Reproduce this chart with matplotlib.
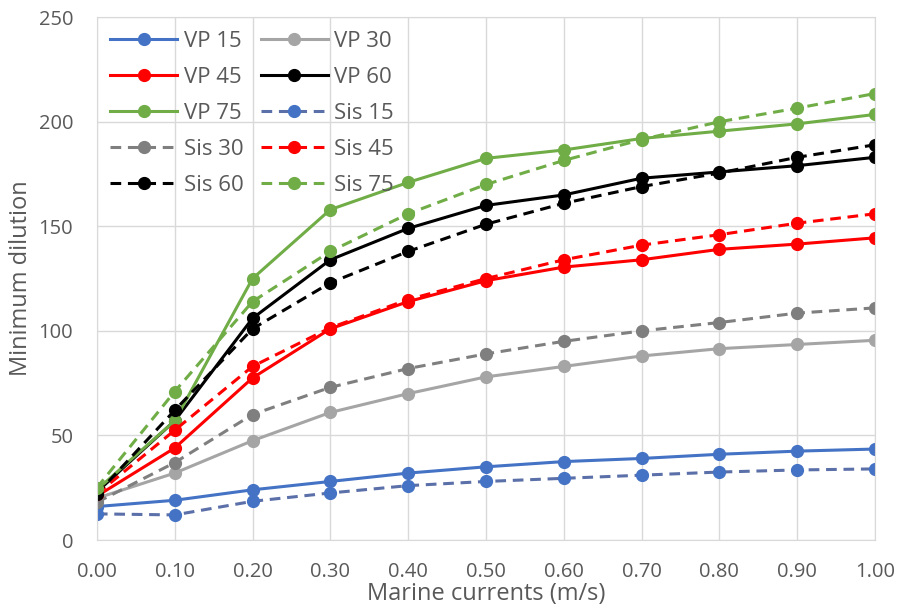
import matplotlib
matplotlib.use('Agg')
import matplotlib.pyplot as plt

plt.rcParams['font.family'] = ['Open Sans', 'DejaVu Sans']

currents = [0.0, 0.1, 0.2, 0.3, 0.4, 0.5, 0.6, 0.7, 0.8, 0.9, 1.0]
x_ticklabels = ['0.00', '0.10', '0.20', '0.30', '0.40', '0.50',
                '0.60', '0.70', '0.80', '0.90', '1.00']

vp15 = [16, 19, 24, 28, 32, 35, 37.5, 39, 41, 42.5, 43.5]
vp30 = [20, 32, 47.5, 61, 70, 78, 83, 88, 91.5, 93.5, 95.5]
vp45 = [21, 44, 77.5, 101, 114, 124, 130.5, 134, 139, 141.5, 144.5]
vp60 = [23, 57, 106, 134, 149, 160, 165, 173, 176, 179, 183]
vp75 = [24, 57, 125, 158, 171, 182.5, 186.5, 192, 195.5, 199, 203.5]
sis15 = [12.5, 12, 18.5, 22.5, 26, 28, 29.5, 31, 32.5, 33.5, 34]
sis30 = [18, 37, 60, 73, 82, 89, 95, 100, 104, 108.5, 111]
sis45 = [22, 52.5, 83, 101.5, 115, 125, 134, 141, 146, 151.5, 156]
sis60 = [22, 62, 101, 123, 138, 151, 161, 169, 175.5, 183, 189]
sis75 = [25, 71, 114, 138, 156, 170, 181.5, 191.5, 200, 206.5, 213.5]

series = [
    ('VP 15', vp15, '#4472C4', '#4472C4', '-'),
    ('VP 30', vp30, '#A5A5A5', '#A5A5A5', '-'),
    ('VP 45', vp45, '#FF0000', '#FF0000', '-'),
    ('VP 60', vp60, '#000000', '#000000', '-'),
    ('VP 75', vp75, '#70AD47', '#70AD47', '-'),
    ('Sis 15', sis15, '#5B6FA8', '#4472C4', '--'),
    ('Sis 30', sis30, '#7F7F7F', '#7F7F7F', '--'),
    ('Sis 45', sis45, '#FF0000', '#FF0000', '--'),
    ('Sis 60', sis60, '#000000', '#000000', '--'),
    ('Sis 75', sis75, '#70AD47', '#70AD47', '--'),
]

fig, ax = plt.subplots(figsize=(8.97, 6.14), dpi=100)
fig.subplots_adjust(left=0.108, right=0.9755, top=0.972, bottom=0.1205)

handles = {}
for label, vals, lc, mc, ls in series:
    h, = ax.plot(currents, vals, linestyle=ls, color=lc, linewidth=2.2,
                 marker='o', markersize=8.5, markerfacecolor=mc,
                 markeredgecolor=mc, label=label)
    if ls == '--':
        h.set_dashes((3.5, 2.2))
    handles[label] = h

ax.set_xlim(0, 1.0)
ax.set_ylim(0, 250)
ax.set_xticks(currents)
ax.set_xticklabels(x_ticklabels)
ax.set_yticks([0, 50, 100, 150, 200, 250])
ax.grid(True, color='#D9D9D9', linewidth=1)
ax.set_axisbelow(True)
for s in ax.spines.values():
    s.set_color('#D9D9D9')
ax.tick_params(length=0, labelsize=14.5, colors='#595959')
ax.tick_params(axis='x', pad=16)
ax.tick_params(axis='y', pad=17)

ax.set_xlabel('Marine currents (m/s)', fontsize=17, color='#595959', labelpad=0)
ax.set_ylabel('Minimum dilution', fontsize=17, color='#595959', labelpad=4)

# legend filled column-wise, so reorder to read row by row like the original
order = ['VP 15', 'VP 45', 'VP 75', 'Sis 30', 'Sis 60',
         'VP 30', 'VP 60', 'Sis 15', 'Sis 45', 'Sis 75']
leg = ax.legend([handles[k] for k in order], order, ncol=2, loc='upper left',
                frameon=False, fontsize=16, labelcolor='#595959',
                handlelength=3.0, handletextpad=0.3, columnspacing=0.8,
                labelspacing=0.68, borderaxespad=0.2)

fig.savefig('out.png', dpi=100)
